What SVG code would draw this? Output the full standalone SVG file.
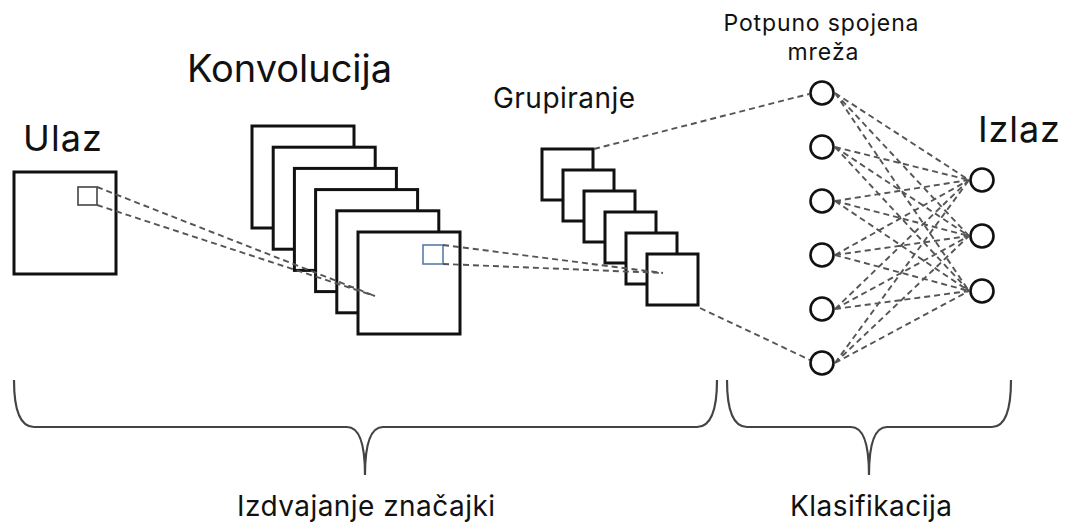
<svg xmlns="http://www.w3.org/2000/svg" width="1071" height="527" viewBox="0 0 1071 527">
<style>
.sq{fill:#fff;stroke:#111;stroke-width:3}
.dash{fill:none;stroke:#555;stroke-width:1.9;stroke-dasharray:6 4}
.node{fill:#fff;stroke:#111;stroke-width:2.6}
.brace{fill:none;stroke:#444;stroke-width:2.2}
.t{font-family:Inter,"Liberation Sans",sans-serif;fill:#111}
</style>
<rect width="1071" height="527" fill="#fff"/>
<g id="input">
<rect class="sq" x="14" y="172" width="102" height="102"/>
<rect x="78" y="187" width="19" height="18" fill="none" stroke="#444" stroke-width="1.6"/>
<text class="t" x="23" y="151" font-size="36" textLength="79">Ulaz</text>
</g>
<g id="convolution">
<rect class="sq" x="252" y="126" width="102" height="102"/>
<rect class="sq" x="273.2" y="147.2" width="102" height="102"/>
<rect class="sq" x="294.4" y="168.4" width="102" height="102"/>
<rect class="sq" x="315.6" y="189.6" width="102" height="102"/>
<rect class="sq" x="336.8" y="210.8" width="102" height="102"/>
<rect class="sq" x="358" y="232" width="102" height="102"/>
<rect x="423" y="245" width="20" height="19" fill="none" stroke="#5a7bad" stroke-width="1.6"/>
<text class="t" x="187" y="82" font-size="38" textLength="205">Konvolucija</text>
</g>
<g id="pooling">
<rect class="sq" x="542" y="149" width="51" height="51"/>
<rect class="sq" x="563" y="170" width="51" height="51"/>
<rect class="sq" x="584" y="191" width="51" height="51"/>
<rect class="sq" x="605" y="212" width="51" height="51"/>
<rect class="sq" x="626" y="233" width="51" height="51"/>
<rect class="sq" x="647" y="254" width="51" height="51"/>
<text class="t" x="493" y="108" font-size="28" textLength="142">Grupiranje</text>
</g>
<g id="connectors">
<path class="dash" d="M97 187 L375 296 M97 205 L375 296"/>
<path class="dash" d="M443 245 L663 273 M443 264 L663 273"/>
<path class="dash" d="M594 149 L809 94 M700 308 L810 360"/>
<path class="dash" d="M835 93 L969 180 M835 93 L969 236 M835 93 L969 291
M835 147 L969 180 M835 147 L969 236 M835 147 L969 291
M835 201 L969 180 M835 201 L969 236 M835 201 L969 291
M835 255 L969 180 M835 255 L969 236 M835 255 L969 291
M835 309 L969 180 M835 309 L969 236 M835 309 L969 291
M835 363 L969 180 M835 363 L969 236 M835 363 L969 291"/>
</g>
<g id="fc">
<circle class="node" cx="822" cy="93" r="11.5"/>
<circle class="node" cx="822" cy="147" r="11.5"/>
<circle class="node" cx="822" cy="201" r="11.5"/>
<circle class="node" cx="822" cy="255" r="11.5"/>
<circle class="node" cx="822" cy="309" r="11.5"/>
<circle class="node" cx="822" cy="363" r="11.5"/>
<text class="t" x="821" y="31" font-size="23" text-anchor="middle" textLength="195">Potpuno spojena</text>
<text class="t" x="823" y="60" font-size="23" text-anchor="middle" textLength="71">mreža</text>
</g>
<g id="output">
<circle class="node" cx="982" cy="180" r="11.5"/>
<circle class="node" cx="982" cy="236" r="11.5"/>
<circle class="node" cx="982" cy="291" r="11.5"/>
<text class="t" x="978" y="142" font-size="36" textLength="82">Izlaz</text>
</g>
<g id="feature-brace">
<path class="brace" d="M14 380 Q14 427 34 427 L347 427 Q365 427 365 475 Q365 427 383 427 L697 427 Q717 427 717 380"/>
<text class="t" x="237" y="516" font-size="28" textLength="258">Izdvajanje značajki</text>
</g>
<g id="class-brace">
<path class="brace" d="M727 380 Q727 427 747 427 L851 427 Q869 427 869 475 Q869 427 887 427 L992 427 Q1011 427 1011 380"/>
<text class="t" x="790" y="516" font-size="28" textLength="162">Klasifikacija</text>
</g>
</svg>
